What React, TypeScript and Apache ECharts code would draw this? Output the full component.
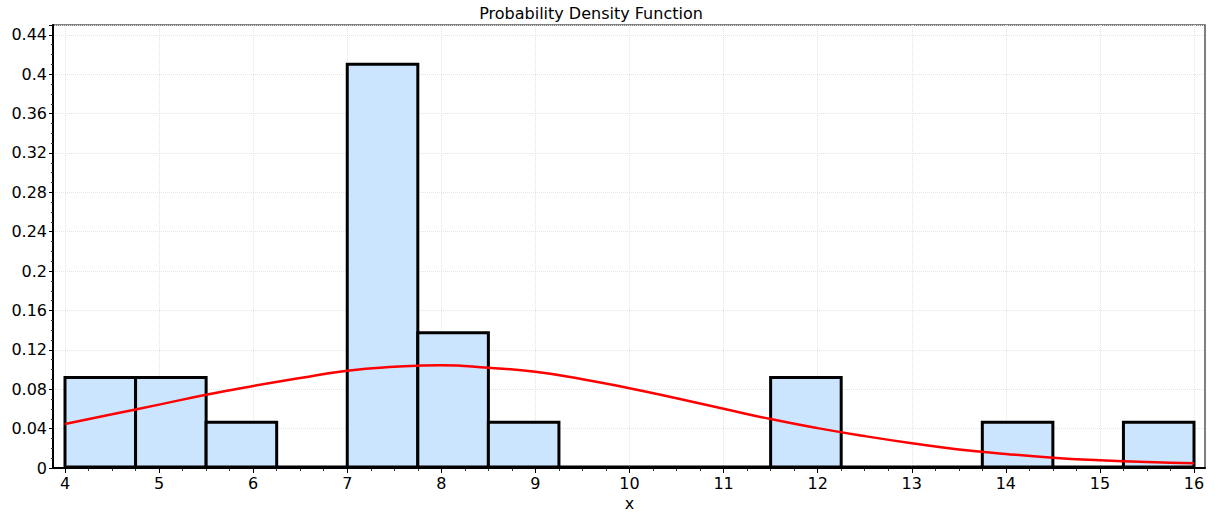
import React, { useEffect, useRef } from "react";
import * as echarts from "echarts";

// Histogram bins: [start, end]
const binStarts = [4, 4.75, 5.5, 6.25, 7, 7.75, 8.5, 9.25, 10, 10.75, 11.5, 12.25, 13, 13.75, 14.5, 15.25];
const binWidth = 0.75;
const binHeights = [0.0909, 0.0909, 0.0455, 0, 0.4091, 0.1364, 0.0455, 0, 0, 0, 0.0909, 0, 0, 0.0455, 0, 0.0455];

// Fitted density curve
const curveX = [4, 4.5, 5, 5.5, 6, 6.5, 7, 7.5, 8, 8.5, 9, 9.5, 10, 10.5, 11, 11.5, 12, 12.5, 13, 13.5, 14, 14.5, 15, 15.5, 16];
const curveY = [0.0447, 0.0545, 0.0644, 0.0744, 0.0833, 0.0914, 0.0989, 0.1028, 0.1045, 0.1019, 0.0978, 0.0902, 0.081, 0.0708, 0.0602, 0.0497, 0.0405, 0.0324, 0.0252, 0.0189, 0.0143, 0.0105, 0.0079, 0.006, 0.0048];

const yTickLabels = ["0", "0.04", "0.08", "0.12", "0.16", "0.2", "0.24", "0.28", "0.32", "0.36", "0.4", "0.44"];

const FONT = "DejaVu Sans";

export default function App() {
  const ref = useRef<HTMLDivElement>(null);

  useEffect(() => {
    if (!ref.current) return;
    const chart = echarts.init(ref.current, undefined, { renderer: "svg" });

    const histData = binStarts.map((s, i) => [s, s + binWidth, binHeights[i]]);
    const lineData = curveX.map((x, i) => [x, curveY[i]]);

    const gridTop = 25;
    const gridBottom = 45;

    chart.setOption({
      animation: false,
      backgroundColor: "#ffffff",
      graphic: [
        {
          type: "text",
          x: 591,
          y: 13,
          z: 10,
          style: {
            text: "Probability Density Function",
            font: `16px "${FONT}"`,
            fill: "#000",
            align: "center",
            verticalAlign: "middle",
            textAlign: "center",
            textVerticalAlign: "middle",
          },
        },
      ],
      grid: [
        {
          left: 53,
          right: 13,
          top: gridTop,
          bottom: gridBottom,
          containLabel: false,
          outerBoundsMode: "none",
          show: true,
          borderColor: "#555",
          borderWidth: 1.5,
          backgroundColor: "transparent",
        },
        {
          left: 65,
          right: 24,
          top: gridTop,
          bottom: gridBottom,
          containLabel: false,
          outerBoundsMode: "none",
        },
      ],
      xAxis: [
        {
          gridIndex: 0,
          type: "value",
          min: 0,
          max: 1,
          axisLine: { show: true, onZero: false, lineStyle: { color: "#000", width: 2 } },
          axisTick: { show: false },
          axisLabel: { show: false },
          splitLine: { show: false },
        },
        {
          gridIndex: 1,
          type: "value",
          min: 4,
          max: 16,
          interval: 1,
          name: "x",
          nameLocation: "middle",
          nameGap: 19,
          nameTextStyle: { fontFamily: FONT, fontSize: 16, color: "#000" },
          axisLine: { show: false, onZero: false },
          axisTick: { show: true, length: 5, lineStyle: { color: "#000", width: 1 } },
          minorTick: { show: true, splitNumber: 4, length: 3, lineStyle: { color: "#333", width: 1 } },
          axisLabel: { fontFamily: FONT, fontSize: 16, color: "#000", margin: 7 },
          splitLine: { show: true, lineStyle: { color: "#e4e4e4", type: "dotted", width: 1 } },
        },
      ],
      yAxis: [
        {
          gridIndex: 0,
          type: "value",
          min: 0,
          max: 0.45,
          interval: 0.04,
          axisLine: { show: true, onZero: false, lineStyle: { color: "#000", width: 2 } },
          axisTick: { show: true, length: 4, lineStyle: { color: "#000", width: 1 } },
          minorTick: { show: true, splitNumber: 4, length: 2, lineStyle: { color: "#333", width: 1 } },
          axisLabel: {
            fontFamily: FONT,
            fontSize: 16,
            color: "#000",
            margin: 6,
            showMaxLabel: false,
            formatter: (v: number) => {
              const idx = Math.round(v / 0.04);
              if (Math.abs(idx * 0.04 - v) > 1e-6) return "";
              return yTickLabels[idx] ?? "";
            },
          },
          splitLine: { show: true, lineStyle: { color: "#e4e4e4", type: "dotted", width: 1 } },
        },
        {
          gridIndex: 1,
          type: "value",
          min: 0,
          max: 0.45,
          show: false,
          splitLine: { show: false },
        },
      ],
      series: [
        {
          type: "custom",
          xAxisIndex: 1,
          yAxisIndex: 1,
          data: histData,
          encode: { x: [0, 1], y: 2 },
          z: 3,
          renderItem: (params: any, api: any) => {
            const x0 = api.value(0);
            const x1 = api.value(1);
            const h = api.value(2);
            const p0 = api.coord([x0, h]);
            const p1 = api.coord([x1, 0]);
            return {
              type: "rect",
              shape: { x: p0[0], y: p0[1] - 1, width: p1[0] - p0[0], height: p1[1] - p0[1] },
              style: { fill: "#cce5ff", stroke: "#000", lineWidth: 3 },
            };
          },
        },
        {
          type: "line",
          xAxisIndex: 1,
          yAxisIndex: 1,
          data: lineData,
          smooth: true,
          showSymbol: false,
          symbol: "none",
          z: 5,
          lineStyle: { color: "#ff0000", width: 2.5 },
        },
      ],
    });

    return () => chart.dispose();
  }, []);

  return <div ref={ref} style={{ position: "absolute", left: 0, top: 0, width: 1218, height: 513 }} />;
}
